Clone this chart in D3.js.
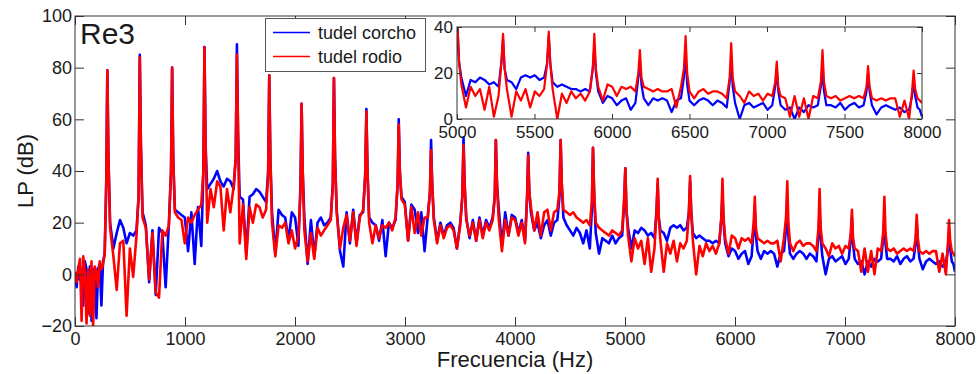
<!DOCTYPE html>
<meta charset="utf-8">
<style>
  body { margin: 0; padding: 0; background-color: #fff; }
  text { font-family: "Liberation Sans", Arial, sans-serif; fill: #1a1a1a; }
  svg { display: block; }
</style>
<script src="https://d3js.org/d3.v7.min.js"></script>
<body>
<div id="chart"></div>
<script>

// frequency grid (Hz), shared by both spectra
var freq = [
  0,15,30,45,60,75,90,105,120,135,150,165,180,195,210,225,240,255,270,284,
  294,304,319,349,379,409,439,469,499,529,559,578,
  589,599,614,644,674,704,734,764,794,824,854,873,
  883,893,908,938,968,998,1028,1058,1088,1118,1148,1167,
  1177,1187,1202,1232,1262,1292,1322,1352,1382,1412,1442,1461,
  1472,1482,1497,1527,1557,1587,1617,1647,1677,1707,1737,1756,
  1766,1776,1791,1821,1851,1881,1911,1941,1971,2001,2031,2050,
  2060,2070,2085,2115,2145,2175,2205,2235,2265,2295,2325,2344,
  2354,2364,2379,2409,2439,2469,2499,2529,2559,2589,2619,2638,
  2649,2659,2674,2704,2734,2764,2794,2824,2854,2884,2914,2933,
  2943,2953,2968,2998,3028,3058,3088,3118,3148,3178,3208,3227,
  3237,3247,3262,3292,3322,3352,3382,3412,3442,3472,3502,3521,
  3532,3542,3557,3587,3617,3647,3677,3707,3737,3767,3797,3816,
  3826,3836,3851,3881,3911,3941,3971,4001,4031,4061,4091,4110,
  4120,4130,4145,4175,4205,4235,4265,4295,4325,4355,4385,4404,
  4415,4425,4440,4470,4500,4530,4560,4590,4620,4650,4680,4699,
  4709,4719,4734,4764,4794,4824,4854,4884,4914,4944,4974,4993,
  5003,5013,5028,5058,5088,5118,5148,5178,5208,5238,5268,5287,
  5297,5307,5322,5352,5382,5412,5442,5472,5502,5532,5562,5581,
  5592,5602,5617,5647,5677,5707,5737,5767,5797,5827,5857,5876,
  5886,5896,5911,5941,5971,6001,6031,6061,6091,6121,6151,6170,
  6180,6190,6205,6235,6265,6295,6325,6355,6385,6415,6445,6464,
  6475,6485,6500,6530,6560,6590,6620,6650,6680,6710,6740,6759,
  6769,6779,6794,6824,6854,6884,6914,6944,6974,7004,7034,7053,
  7063,7073,7088,7118,7148,7178,7208,7238,7268,7298,7328,7347,
  7358,7368,7383,7413,7443,7473,7503,7533,7563,7593,7623,7642,
  7652,7662,7677,7707,7737,7767,7797,7827,7857,7887,7917,7936,
  7946,7956,7971,7986,8000
];

// LP (dB), tudel corcho
var lpCorcho = [
  0,-5,3,-2,2,-12,5,2,-15,3,-18,2,0,-17,2,4,-12,5,8,35,
  79,45,20,10,16,21,18,12,16,15,17,30,
  85,50,24,19,-3,17,-8,18,16,-5,20,40,
  80,45,25,24,23,22,9,24,4,26,11,40,
  88,50,33,35,37,40,36,34,37,36,33,45,
  89,55,30,29,8,30,31,33,32,30,28,40,
  77,45,24,8,25,23,22,13,24,22,11,35,
  66,40,22,4,21,7,20,22,19,20,22,35,
  76,45,25,9,3,24,12,25,12,23,24,38,
  64,40,22,20,19,13,21,7,20,18,21,35,
  60,40,30,28,13,27,25,16,24,9,23,32,
  52,35,22,13,20,15,19,20,18,10,20,30,
  53,35,22,14,21,13,22,15,21,18,22,30,
  52,35,26,11,24,15,23,22,16,21,13,30,
  47,32,24,17,20,14,19,21,15,20,21,30,
  52,35,22,19,17,15,18,16,12,17,10,25,
  49,32,16,8,14,13,12,15,12,14,15,28,
  41,25,18,10,17,16,18,17,15,16,14,25,
  35,22,17,16,13,18,19,18,19,17,18,24,
  36,24,16,14,15,14,13,13,12,13,12,22,
  31,20,12,7,10,9,6,8,9,4,7,18,
  25,15,9,6,9,8,9,8,3,8,9,18,
  28,15,8,6,8,9,8,6,8,7,5,16,
  24,14,7,0,6,7,5,6,7,4,6,14,
  22,12,6,4,5,0,5,3,6,5,6,14,
  20,12,6,6,5,7,4,6,7,5,6,12,
  20,12,6,2,5,6,5,4,5,3,4,10,
  17,10,5,4,1
];

// LP (dB), tudel rodio
var lpRodio = [
  1,-3,2,6,-18,7,0,-19,2,-16,5,-20,3,1,-5,5,2,4,8,35,
  79,45,18,7,-6,12,13,-16,10,-1,15,30,
  84,50,22,18,-2,16,-7,-9,17,15,19,40,
  80,45,24,22,21,12,22,20,23,25,27,40,
  88,50,20,33,26,36,34,17,33,24,34,45,
  85,55,12,27,6,26,20,27,26,22,25,38,
  77,45,20,7,19,18,20,12,17,10,15,32,
  66,40,17,5,16,6,18,15,17,19,21,35,
  76,45,24,10,18,23,13,24,11,22,25,38,
  63,40,20,12,19,14,19,18,20,17,22,35,
  58,40,29,27,13,26,16,24,15,22,22,32,
  48,35,21,12,19,14,18,19,17,10,19,30,
  50,35,21,15,20,13,21,14,20,17,21,30,
  52,35,22,9,21,15,22,21,15,20,12,30,
  46,32,26,17,24,15,24,25,17,24,25,32,
  52,35,25,24,23,24,22,21,20,21,19,28,
  49,32,20,18,17,16,15,17,16,15,17,30,
  41,25,15,5,14,10,13,4,14,1,10,25,
  37,22,13,1,12,8,13,5,12,10,13,24,
  38,24,13,0,11,7,12,9,11,8,12,22,
  37,22,14,8,15,14,10,14,13,14,12,20,
  30,18,14,13,12,13,12,12,13,5,14,22,
  36,20,12,9,12,13,11,12,12,11,9,18,
  33,18,12,10,7,12,10,11,8,11,10,16,
  25,14,10,9,1,10,1,9,0,10,9,16,
  30,16,10,9,10,8,9,10,9,10,9,14,
  23,14,9,8,9,8,9,9,1,8,0,12,
  21,13,9,8,7
];

var xTicks = [0,1000,2000,3000,4000,5000,6000,7000,8000];
var yTicks = [-20,0,20,40,60,80,100];
var insetXTicks = [5000,5500,6000,6500,7000,7500,8000];
var insetYTicks = [0,20,40];
var seriesNames = ["tudel corcho", "tudel rodio"];
var seriesColors = ["#0000ff", "#ff0000"];

var W = 978, H = 374;
var main = {left: 75, right: 955, top: 16, bottom: 326};
var ins = {left: 457, right: 922, top: 27, bottom: 119};

var svg = d3.select("#chart").append("svg")
  .attr("width", W).attr("height", H);

var defs = svg.append("defs");
defs.append("clipPath").attr("id", "clipMain").append("rect")
  .attr("x", main.left).attr("y", main.top)
  .attr("width", main.right - main.left).attr("height", main.bottom - main.top);
defs.append("clipPath").attr("id", "clipInset").append("rect")
  .attr("x", ins.left).attr("y", ins.top)
  .attr("width", ins.right - ins.left).attr("height", ins.bottom - ins.top);

var series = [lpCorcho, lpRodio];

// ---- main axes ----
var x = d3.scaleLinear().domain([0, 8000]).range([main.left, main.right]);
var y = d3.scaleLinear().domain([-20, 100]).range([main.bottom, main.top]);

var line = d3.line().x(function(d, i) { return x(freq[i]); }).y(function(d) { return y(d); });

var gMain = svg.append("g").attr("clip-path", "url(#clipMain)");
series.forEach(function(s, k) {
  gMain.append("path").datum(s)
    .attr("d", line)
    .attr("fill", "none")
    .attr("stroke", seriesColors[k])
    .attr("stroke-width", 2.6)
    .attr("stroke-linejoin", "round");
});

function styleAxis(g, fs) {
  g.select(".domain").remove();
  g.selectAll(".tick line").attr("stroke", "#333");
  g.selectAll(".tick text").attr("fill", "#1a1a1a").style("font-size", fs + "px");
}

svg.append("g").attr("transform", "translate(0," + main.bottom + ")")
  .call(d3.axisBottom(x).tickValues(xTicks).tickSize(-9).tickPadding(6).tickFormat(d3.format("d")))
  .call(styleAxis, 18);
svg.append("g").attr("transform", "translate(0," + main.top + ")")
  .call(d3.axisTop(x).tickValues(xTicks).tickSize(-9).tickFormat(""))
  .call(styleAxis, 18);
svg.append("g").attr("transform", "translate(" + main.left + ",0)")
  .call(d3.axisLeft(y).tickValues(yTicks).tickSize(-9).tickPadding(3).tickFormat(d3.format("d")))
  .call(styleAxis, 18);
svg.append("g").attr("transform", "translate(" + main.right + ",0)")
  .call(d3.axisRight(y).tickValues(yTicks).tickSize(-9).tickFormat(""))
  .call(styleAxis, 18);

svg.append("rect")
  .attr("x", main.left).attr("y", main.top)
  .attr("width", main.right - main.left).attr("height", main.bottom - main.top)
  .attr("fill", "none").attr("stroke", "#333").attr("stroke-width", 1);

svg.append("text")
  .attr("x", (main.left + main.right) / 2).attr("y", 367)
  .attr("text-anchor", "middle").style("font-size", "22px")
  .text("Frecuencia (Hz)");

svg.append("text")
  .attr("transform", "translate(33," + (main.top + main.bottom) / 2 + ") rotate(-90)")
  .attr("text-anchor", "middle").style("font-size", "22px")
  .text("LP (dB)");

svg.append("text")
  .attr("x", 80).attr("y", 44).style("font-size", "30px")
  .text("Re3");

// ---- legend ----
var legend = svg.append("g");
legend.append("rect")
  .attr("x", 265.5).attr("y", 18.5).attr("width", 160).attr("height", 53)
  .attr("fill", "#fff").attr("stroke", "#555").attr("stroke-width", 1);
seriesNames.forEach(function(name, k) {
  var ly = 32.5 + k * 24;
  legend.append("line")
    .attr("x1", 273).attr("x2", 310).attr("y1", ly).attr("y2", ly)
    .attr("stroke", seriesColors[k]).attr("stroke-width", 1.5);
  legend.append("text")
    .attr("x", 318).attr("y", ly + 6.5).style("font-size", "18px")
    .text(name);
});

// ---- inset ----
var xi = d3.scaleLinear().domain([5000, 8000]).range([ins.left, ins.right]);
var yi = d3.scaleLinear().domain([0, 40]).range([ins.bottom, ins.top]);
var lineIns = d3.line()
  .defined(function(d, i) { return freq[i] >= 4990; })
  .x(function(d, i) { return xi(freq[i]); }).y(function(d) { return yi(d); });

svg.append("rect")
  .attr("x", ins.left).attr("y", ins.top)
  .attr("width", ins.right - ins.left).attr("height", ins.bottom - ins.top)
  .attr("fill", "#fff");

var gIns = svg.append("g").attr("clip-path", "url(#clipInset)");
series.forEach(function(s, k) {
  gIns.append("path").datum(s)
    .attr("d", lineIns)
    .attr("fill", "none")
    .attr("stroke", seriesColors[k])
    .attr("stroke-width", 2.2)
    .attr("stroke-linejoin", "round");
});

svg.append("g").attr("transform", "translate(0," + ins.bottom + ")")
  .call(d3.axisBottom(xi).tickValues(insetXTicks).tickSize(-5).tickPadding(7).tickFormat(d3.format("d")))
  .call(styleAxis, 17);
svg.append("g").attr("transform", "translate(0," + ins.top + ")")
  .call(d3.axisTop(xi).tickValues(insetXTicks).tickSize(-5).tickFormat(""))
  .call(styleAxis, 17);
svg.append("g").attr("transform", "translate(" + ins.left + ",0)")
  .call(d3.axisLeft(yi).tickValues(insetYTicks).tickSize(-5).tickPadding(4).tickFormat(d3.format("d")))
  .call(styleAxis, 17);
svg.append("g").attr("transform", "translate(" + ins.right + ",0)")
  .call(d3.axisRight(yi).tickValues(insetYTicks).tickSize(-5).tickFormat(""))
  .call(styleAxis, 17);

svg.append("rect")
  .attr("x", ins.left).attr("y", ins.top)
  .attr("width", ins.right - ins.left).attr("height", ins.bottom - ins.top)
  .attr("fill", "none").attr("stroke", "#333").attr("stroke-width", 1);

</script>
</body>
